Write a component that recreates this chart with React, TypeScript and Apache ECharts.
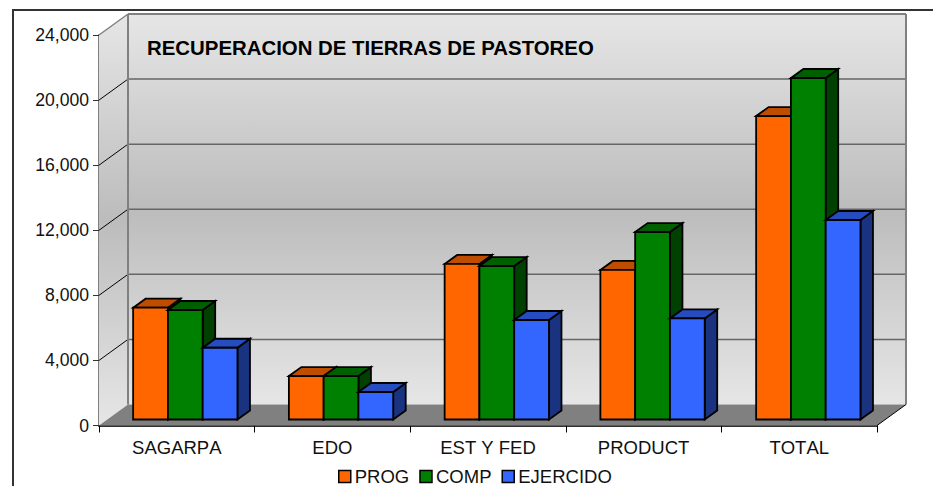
import React, { useEffect, useRef } from "react";
import * as echarts from "echarts";

const categories = ["SAGARPA", "EDO", "EST Y FED", "PRODUCT", "TOTAL"];
const prog = [6870, 2670, 9560, 9190, 18650];
const comp = [6730, 2670, 9430, 11520, 20990];
const ejercido = [4410, 1690, 6115, 6210, 12260];
const yTicks = [0, 4000, 8000, 12000, 16000, 20000, 24000];
const seriesNames = ["PROG", "COMP", "EJERCIDO"];
const seriesValues = [prog, comp, ejercido];
const frontColors = ["#ff6600", "#008000", "#3366ff"];
const topColors = ["#bf4d00", "#006000", "#264dbf"];
const sideColors = ["#803300", "#004000", "#1a3380"];
const titleText = "RECUPERACION DE TIERRAS DE PASTOREO";

const DEPTH_X = 29;
const DEPTH_Y = -21;
const FONT = "'Liberation Sans', Arial, sans-serif";

const wallFill = () =>
  new echarts.graphic.LinearGradient(0, 0, 0, 1, [
    { offset: 0, color: "#e6e6e6" },
    { offset: 0.5, color: "#bcbcbc" },
    { offset: 1, color: "#e6e6e6" },
  ]);

const renderWalls = (_p: any, api: any) => {
  const idx = api.value(0);
  const size = api.size([1, 0])[0];
  const left = api.coord([0, 0])[0] - size / 2;
  const right = left + size * categories.length;
  const bottom = api.coord([0, 0])[1];
  const top = api.coord([0, yTicks[yTicks.length - 1]])[1];
  const poly = (points: number[][], style: any) => ({ type: "polygon", shape: { points }, style });
  const line = (a: number[], b: number[], stroke: string, lineWidth: number) => ({
    type: "line",
    shape: { x1: a[0], y1: a[1], x2: b[0], y2: b[1] },
    style: { stroke, lineWidth, fill: null },
  });
  const children: any[] = [
    poly(
      [[left, bottom], [left, top], [left + DEPTH_X, top + DEPTH_Y], [left + DEPTH_X, bottom + DEPTH_Y]],
      { fill: wallFill() }
    ),
    poly(
      [[left + DEPTH_X, top + DEPTH_Y], [right + DEPTH_X, top + DEPTH_Y], [right + DEPTH_X, bottom + DEPTH_Y], [left + DEPTH_X, bottom + DEPTH_Y]],
      { fill: wallFill() }
    ),
    poly(
      [[left, bottom], [left + DEPTH_X, bottom + DEPTH_Y], [right + DEPTH_X, bottom + DEPTH_Y], [right, bottom]],
      { fill: "#808080" }
    ),
  ];
  yTicks.forEach((t, i) => {
    if (i === 0 || i === yTicks.length - 1) return;
    const y = api.coord([0, t])[1];
    children.push(line([left + DEPTH_X, y + DEPTH_Y], [right + DEPTH_X, y + DEPTH_Y], "#666666", 1.5));
    children.push(line([left, y], [left + DEPTH_X, y + DEPTH_Y], "#000000", 1));
  });
  children.push(line([left, top], [left + DEPTH_X, top + DEPTH_Y], "#808080", 1.5));
  children.push(line([left + DEPTH_X, top + DEPTH_Y], [right + DEPTH_X, top + DEPTH_Y], "#808080", 2));
  children.push(line([left + DEPTH_X, top + DEPTH_Y], [left + DEPTH_X, bottom + DEPTH_Y], "#808080", 2));
  children.push(line([right + DEPTH_X, top + DEPTH_Y], [right + DEPTH_X, bottom + DEPTH_Y], "#808080", 2));
  children.push(line([right, bottom], [right + DEPTH_X, bottom + DEPTH_Y], "#000000", 1));
  return idx === 0 ? { type: "group", children } : null;
};

const makeBarRenderer = (s: number) => (_p: any, api: any) => {
  const cat = api.value(0);
  const val = api.value(1);
  const size = api.size([1, 0])[0];
  const w = size * 0.2235;
  const cx = api.coord([cat, 0])[0] + 8.5 + cat * 0.15;
  const base = api.coord([cat, 0])[1] - 6;
  const top = api.coord([cat, val])[1] - 6;
  const x0 = cx - 1.5 * w + s * w;
  const x1 = x0 + w;
  const dx = 12.5;
  const dy = -9;
  const border = { stroke: "#000000", lineWidth: 1.8, lineJoin: "miter" };
  return {
    type: "group",
    children: [
      {
        type: "polygon",
        shape: { points: [[x1, top], [x1 + dx, top + dy], [x1 + dx, base + dy], [x1, base]] },
        style: { fill: sideColors[s], ...border },
      },
      {
        type: "polygon",
        shape: { points: [[x0, top], [x0 + dx, top + dy], [x1 + dx, top + dy], [x1, top]] },
        style: { fill: topColors[s], ...border },
      },
      {
        type: "rect",
        shape: { x: x0, y: top, width: w, height: base - top },
        style: { fill: frontColors[s], ...border },
      },
    ],
  };
};

export default function App() {
  const ref = useRef<HTMLDivElement>(null);
  useEffect(() => {
    const chart = echarts.init(ref.current!, null, { renderer: "svg" });
    chart.setOption({
      animation: false,
      backgroundColor: "#ffffff",
      textStyle: { fontFamily: FONT },
      grid: { left: 99, right: 56, top: 35, bottom: 60.5, containLabel: false },
      xAxis: {
        type: "category",
        data: categories,
        axisLine: { lineStyle: { color: "#333333", width: 2 } },
        axisTick: { show: true, length: 7, alignWithLabel: false, lineStyle: { color: "#000000", width: 1 } },
        axisLabel: { color: "#111111", fontSize: 18.5, fontFamily: FONT, margin: 12 },
        splitLine: { show: false },
      },
      yAxis: {
        type: "value",
        min: 0,
        max: 24000,
        interval: 4000,
        axisLine: { show: true, lineStyle: { color: "#808080", width: 2 } },
        axisTick: { show: true, length: 6, lineStyle: { color: "#333333", width: 1 } },
        axisLabel: {
          color: "#111111",
          fontSize: 17.6,
          fontFamily: FONT,
          margin: 10,
          formatter: (v: number) => v.toLocaleString("en-US"),
        },
        splitLine: { show: false },
      },
      legend: {
        data: seriesNames,
        left: 338,
        top: 467,
        itemWidth: 12,
        itemHeight: 12,
        itemGap: 10,
        icon: "rect",
        textStyle: { color: "#111111", fontSize: 18.5, fontFamily: FONT, padding: [0, 0, 0, -1] },
        padding: 0,
        itemStyle: { borderColor: "#000000", borderWidth: 1.5 },
      },
      graphic: [
        {
          type: "text",
          left: 147,
          top: 38,
          z: 10,
          style: { text: titleText, fill: "#000000", font: `bold 20.4px ${FONT}` },
        },
      ],
      series: [
        {
          type: "custom",
          name: "walls",
          z: 1,
          clip: false,
          silent: true,
          renderItem: renderWalls,
          data: [[0, 0]],
          encode: { x: 0, y: 1 },
        },
        ...seriesNames.map((name, s) => ({
          type: "custom",
          name,
          z: 3,
          clip: false,
          itemStyle: { color: frontColors[s] },
          renderItem: makeBarRenderer(s),
          data: seriesValues[s].map((v, i) => [i, v]),
          encode: { x: 0, y: 1 },
        })),
      ],
    });
    return () => chart.dispose();
  }, []);
  return (
    <>
      <div
        ref={ref}
        style={{ position: "absolute", left: 0, top: 0, width: 933, height: 486, overflow: "hidden", fontKerning: "none" }}
      />
      <div
        style={{
          position: "absolute",
          left: 12,
          top: 9,
          width: 921,
          height: 477,
          boxSizing: "border-box",
          borderLeft: "2px solid #333333",
          borderTop: "2px solid #333333",
          pointerEvents: "none",
        }}
      />
    </>
  );
}
